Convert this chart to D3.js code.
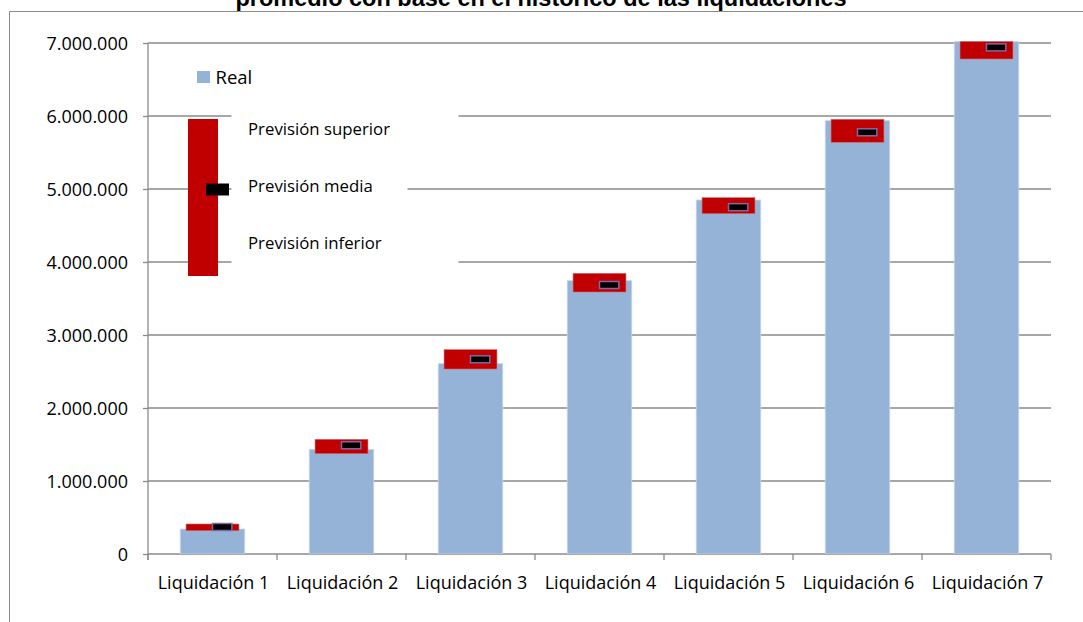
<!DOCTYPE html>
<html>
<head>
<meta charset="utf-8">
<script src="https://cdn.jsdelivr.net/npm/d3@7"></script>
<style>
  body { margin: 0; background: #fff; }
  svg { display: block; }
  text { font-family: "Open Sans", "Noto Sans", sans-serif; fill: #000; }
</style>
</head>
<body>
<div id="chart"></div>
<script>
// chart data
var categories = ["Liquidación 1", "Liquidación 2", "Liquidación 3", "Liquidación 4",
                  "Liquidación 5", "Liquidación 6", "Liquidación 7"];
var real  = [342000, 1434000, 2607000, 3744000, 4849000, 5936000, 7050000];
var upper = [411000, 1571000, 2799000, 3845000, 4881000, 5955000, 7050000];
var lower = [319000, 1374000, 2534000, 3589000, 4662000, 5640000, 6781000];
var media = [370000, 1489000, 2667000, 3685000, 4751000, 5777000, 6940000];
var yTicks = [0, 1000000, 2000000, 3000000, 4000000, 5000000, 6000000, 7000000];
var titleText = "promedio con base en el histórico de las liquidaciones";

var width = 1083, height = 622;
var margin = {top: 43, right: 32, bottom: 68, left: 148};
var plotW = width - margin.left - margin.right,
    plotH = height - margin.top - margin.bottom;

var svg = d3.select("#chart").append("svg")
  .attr("width", width)
  .attr("height", height);

// outer frame (chart area is cropped on right and bottom)
svg.append("path")
  .attr("d", "M9.5," + height + "V11.5H" + width)
  .attr("fill", "none")
  .attr("stroke", "#8a8a8a")
  .attr("stroke-width", 1);

// title (only lower part visible, as in the source)
svg.append("text")
  .attr("x", 541)
  .attr("y", 6)
  .attr("text-anchor", "middle")
  .style("font-family", "'Liberation Sans', Arial, sans-serif")
  .style("font-weight", "bold")
  .style("font-size", "23.5px")
  .text(titleText);

var es = d3.formatLocale({decimal: ",", thousands: ".", grouping: [3], currency: ["", "€"]});
var fmt = es.format(",d");

var x = d3.scaleBand()
  .domain(categories)
  .range([margin.left, margin.left + plotW])
  .paddingInner(0.5)
  .paddingOuter(0.25);

var y = d3.scaleLinear()
  .domain([0, 7000000])
  .range([margin.top + plotH, margin.top]);

// gridlines
svg.append("g")
  .selectAll("line")
  .data(yTicks.slice(1))
  .enter().append("line")
    .attr("x1", margin.left)
    .attr("x2", margin.left + plotW)
    .attr("y1", function(d) { return y(d); })
    .attr("y2", function(d) { return y(d); })
    .attr("stroke", "#8a8a8a")
    .attr("stroke-width", 1.3);

// y axis
var yAxis = svg.append("g")
  .attr("transform", "translate(" + margin.left + ",0)")
  .call(d3.axisLeft(y).tickValues(yTicks).tickFormat(fmt).tickSize(5).tickPadding(15));
yAxis.select(".domain").attr("stroke", "#8a8a8a").attr("stroke-width", 1.3)
  .attr("d", "M0," + y(7000000) + "V" + (y(0) + 6));
yAxis.selectAll(".tick line").attr("stroke", "#8a8a8a").attr("stroke-width", 1.3);
yAxis.selectAll(".tick text").style("font-size", "18px").attr("dy", "0.36em");

// x axis ticks at category boundaries
var step = x.step();
var bounds = d3.range(categories.length + 1).map(function(i) { return margin.left + i * step; });
svg.append("line")
  .attr("x1", margin.left).attr("x2", margin.left + plotW)
  .attr("y1", y(0)).attr("y2", y(0))
  .attr("stroke", "#8a8a8a").attr("stroke-width", 1.3);
svg.append("g").selectAll("line")
  .data(bounds)
  .enter().append("line")
    .attr("x1", function(d) { return d; })
    .attr("x2", function(d) { return d; })
    .attr("y1", y(0))
    .attr("y2", y(0) + 6)
    .attr("stroke", "#8a8a8a").attr("stroke-width", 1.3);
svg.append("g").selectAll("text")
  .data(categories)
  .enter().append("text")
    .attr("x", function(d) { return x(d) + x.bandwidth() / 2 + 1; })
    .attr("y", 589)
    .attr("text-anchor", "middle")
    .style("font-size", "18px")
    .text(function(d) { return d; });

// clip the marks to the plot area
svg.append("clipPath").attr("id", "plotclip")
  .append("rect")
    .attr("x", margin.left).attr("y", margin.top - 1.5)
    .attr("width", plotW).attr("height", plotH + 1.5);

var marks = svg.append("g").attr("clip-path", "url(#plotclip)");

// real bars
marks.selectAll(".bar")
  .data(real)
  .enter().append("rect")
    .attr("class", "bar")
    .attr("x", function(d, i) { return x(categories[i]); })
    .attr("y", function(d) { return y(d); })
    .attr("width", x.bandwidth())
    .attr("height", function(d) { return y(0) - y(d); })
    .attr("fill", "#95b3d7")
    .attr("stroke", "#c6d6ea")
    .attr("stroke-width", 0.8);

// forecast range
var boxW = step * 0.41;
marks.selectAll(".range")
  .data(upper)
  .enter().append("rect")
    .attr("class", "range")
    .attr("x", function(d, i) { return x(categories[i]) + x.bandwidth() / 2 - boxW / 2; })
    .attr("y", function(d) { return y(d); })
    .attr("width", boxW)
    .attr("height", function(d, i) { return y(lower[i]) - y(d); })
    .attr("fill", "#c00000")
    .attr("stroke", "#d26a6a")
    .attr("stroke-width", 0.6);

// forecast mean marker
var mW = step * 0.15, mH = 7;
marks.selectAll(".mean")
  .data(media)
  .enter().append("rect")
    .attr("class", "mean")
    .attr("x", function(d, i) { return x(categories[i]) + x.bandwidth() / 2; })
    .attr("y", function(d) { return y(d) - mH / 2; })
    .attr("width", mW)
    .attr("height", mH)
    .attr("fill", "#000")
    .attr("stroke", "#7d6aa5")
    .attr("stroke-width", 1.5);

// legend
var lg = svg.append("g");
lg.append("rect").attr("x", 197).attr("y", 71).attr("width", 13).attr("height", 12).attr("fill", "#95b3d7");
lg.append("text").attr("x", 215.5).attr("y", 83.5).style("font-size", "18.5px").text("Real");

// white text boxes covering the gridlines
var boxes = [
  {label: "Previsión superior", y: 135, top: 100, w: 227},
  {label: "Previsión media", y: 192, top: 170, w: 176},
  {label: "Previsión inferior", y: 249, top: 232, w: 227}
];
lg.selectAll(".tb")
  .data(boxes)
  .enter().append("rect")
    .attr("x", 231.5)
    .attr("y", function(d) { return d.top; })
    .attr("width", function(d) { return d.w; })
    .attr("height", 40)
    .attr("fill", "#fff");
lg.append("rect").attr("x", 188).attr("y", 119).attr("width", 30).attr("height", 157).attr("fill", "#c00000");
lg.append("rect").attr("x", 206).attr("y", 183.5).attr("width", 23).attr("height", 12).attr("fill", "#000");
lg.selectAll(".tl")
  .data(boxes)
  .enter().append("text")
    .attr("x", 248)
    .attr("y", function(d) { return d.y; })
    .style("font-size", "16.8px")
    .text(function(d) { return d.label; });
</script>
</body>
</html>
